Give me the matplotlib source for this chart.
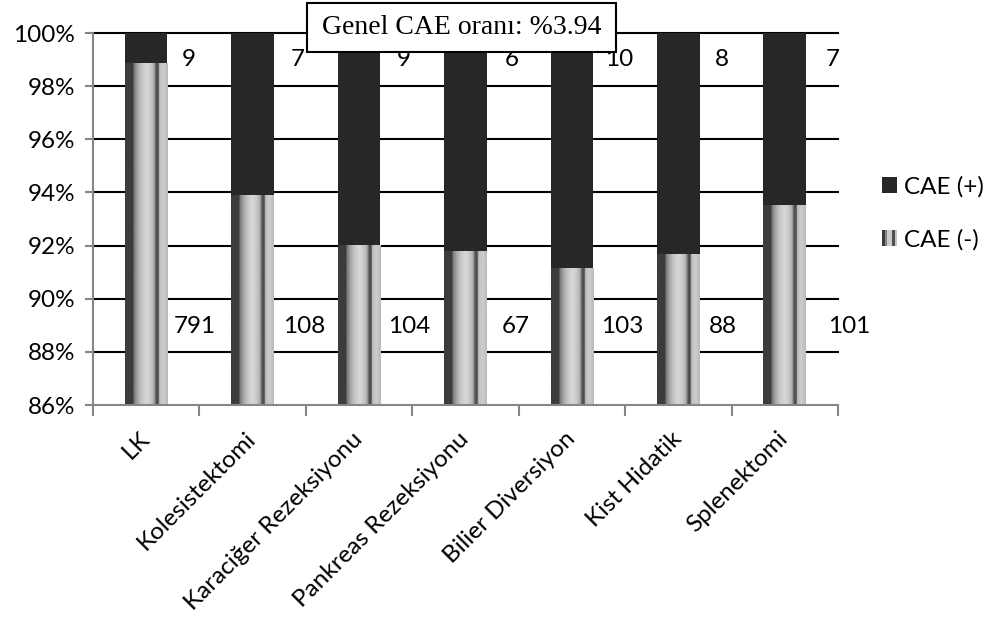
import numpy as np
import matplotlib
matplotlib.use("Agg")
import matplotlib.pyplot as plt
from matplotlib.patches import Rectangle
from matplotlib.legend_handler import HandlerBase
from matplotlib.ticker import FixedLocator, PercentFormatter

plt.rcParams['font.family'] = ['Lato', 'DejaVu Sans']

categories = ["LK", "Kolesistektomi", "Karaciğer Rezeksiyonu", "Pankreas Rezeksiyonu",
              "Bilier Diversiyon", "Kist Hidatik", "Splenektomi"]
cae_pos = [9, 7, 9, 6, 10, 8, 7]          # CAE (+)
cae_neg = [791, 108, 104, 67, 103, 88, 101]  # CAE (-)
summary_text = "Genel CAE oranı: %3.94"

# label placement (x offset from bar centre, in category units)
top_dx = [0.40, 0.42, 0.42, 0.43, 0.44, 0.41, 0.45]
bot_dx = [0.46, 0.48, 0.47, 0.47, 0.47, 0.42, 0.61]

pos = np.array(cae_pos, dtype=float)
neg = np.array(cae_neg, dtype=float)
tot = pos + neg
neg_pct = neg / tot * 100
pos_pct = pos / tot * 100

DARK = "#272727"
AXIS_GREY = "#868686"
FS = 17.5

# grey profile of the cylinder-like striped fill
stops_x = [0.0, 0.19, 0.20, 0.30, 0.40, 0.50, 0.60, 0.66, 0.70, 0.72, 0.78, 0.80, 0.90, 1.0]
stops_v = [60, 60, 115, 170, 200, 215, 200, 180, 140, 80, 80, 190, 205, 185]
xs = np.linspace(0, 1, 300)
profile = np.interp(xs, stops_x, stops_v) / 255.0
stripe_img = np.tile(profile, (2, 1))

fig = plt.figure(figsize=(9.87, 6.21), dpi=100)
ax = fig.add_axes([93/987, 1-405/621, 745/987, 372/621])

x = np.arange(len(categories))
width = 0.4

ax.set_xlim(-0.5, len(categories) - 0.5)
ax.set_ylim(86, 100)

# horizontal gridlines
for g in [88, 90, 92, 94, 96, 98, 100]:
    ax.axhline(g, color="black", lw=1.5, zorder=1, clip_on=False)

bars_neg = ax.bar(x, neg_pct, width=width, bottom=0, color="none", edgecolor="none", zorder=2)
bars_pos = ax.bar(x, pos_pct, width=width, bottom=neg_pct, color=DARK, edgecolor="none", zorder=2)

for rect in bars_neg:
    x0 = rect.get_x()
    x1 = x0 + rect.get_width()
    y1 = rect.get_y() + rect.get_height()
    im = ax.imshow(stripe_img, cmap="gray", vmin=0, vmax=1, aspect="auto",
                   extent=(x0, x1, 86, y1), interpolation="bilinear", zorder=2)
    im.set_clip_path(rect)

ax.set_xlim(-0.5, len(categories) - 0.5)
ax.set_ylim(86, 100)

# value labels
for i in range(len(categories)):
    ax.text(x[i] + top_dx[i], 99.0, str(cae_pos[i]), ha="center", va="center",
            fontsize=FS, color="black", zorder=3)
    ax.text(x[i] + bot_dx[i], 88.95, str(cae_neg[i]), ha="center", va="center",
            fontsize=FS, color="black", zorder=3)

# axes styling
for s in ["top", "right"]:
    ax.spines[s].set_visible(False)
for s in ["left", "bottom"]:
    ax.spines[s].set_color(AXIS_GREY)
    ax.spines[s].set_linewidth(1.5)
    ax.spines[s].set_zorder(4)

ax.set_yticks(np.arange(86, 101, 2))
ax.yaxis.set_major_formatter(PercentFormatter(decimals=0))
ax.tick_params(axis="y", which="major", length=6, width=1.5, color=AXIS_GREY,
               labelsize=FS, pad=7)

ax.set_xticks(x)
ax.set_xticklabels(categories, rotation=45, ha="right", rotation_mode="anchor",
                   fontsize=FS, va="center")
ax.tick_params(axis="x", which="major", length=0, pad=22)
ax.xaxis.set_minor_locator(FixedLocator(np.arange(-0.5, len(categories), 1.0)))
ax.tick_params(axis="x", which="minor", length=8, width=1.5, color=AXIS_GREY)

# summary box
fig.patches.append(Rectangle((307/987, 1-52/621), 309/987, 49/621,
                             transform=fig.transFigure, facecolor="white",
                             edgecolor="black", lw=1.5, zorder=10))
fig.text(461.5/987, 1-27.5/621, summary_text, ha="center", va="center",
         fontsize=20, family="Liberation Serif", zorder=11)


class StripeHandler(HandlerBase):
    def create_artists(self, legend, orig_handle, xdescent, ydescent,
                       width, height, fontsize, trans):
        arts = []
        n = 6
        vals = np.interp(np.linspace(0.05, 0.95, n), stops_x, stops_v) / 255.0
        w = width / n
        for k, v in enumerate(vals):
            r = Rectangle((-xdescent + k * w, -ydescent), w, height,
                          facecolor=str(v), edgecolor="none", transform=trans)
            arts.append(r)
        return arts


h_pos = Rectangle((0, 0), 1, 1, facecolor=DARK, edgecolor="none")
h_neg = Rectangle((0, 0), 1, 1, facecolor="0.6", edgecolor="none")
fig.legend([h_pos, h_neg], ["CAE (+)", "CAE (-)"], loc="center left",
           bbox_to_anchor=(882/987, 1-213.5/621), frameon=False, fontsize=FS,
           handlelength=0.62, handleheight=0.62, handletextpad=0.28,
           labelspacing=1.3, borderpad=0, borderaxespad=0,
           handler_map={h_neg: StripeHandler()})

fig.savefig("out.png", dpi=100)
